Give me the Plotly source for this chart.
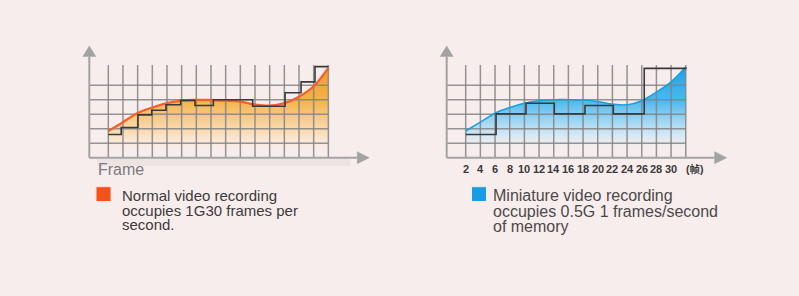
import plotly.graph_objects as go

W, H = 799, 296
BG = "#f8eded"

# ---------------- data ----------------
grid_cols = list(range(16))          # vertical grid lines (frame slots)
grid_rows = [1, 2, 3, 4, 5]          # horizontal grid lines
grid_top = 6.39

frame_labels = ["2", "4", "6", "8", "10", "12", "14", "16", "18", "20",
                "22", "24", "26", "28", "30"]
frame_unit = "(帧)"

curve_x = list(range(16))
normal_curve_y = [1.84, 2.45, 3.08, 3.46, 3.76, 3.93, 3.98, 3.98, 3.93, 3.87,
                  3.67, 3.59, 3.76, 4.21, 4.93, 6.2]
normal_step_x = [0, 0.88, 2.02, 2.96, 3.93, 4.93, 5.91, 7.16, 9.84, 12.05,
                 13.14, 14.09, 15]
normal_step_y = [1.6, 2.08, 2.95, 3.27, 3.65, 3.95, 3.6, 4.0, 3.55, 4.48,
                 5.23, 6.28, 6.28]

mini_curve_y = [1.84, 2.45, 3.07, 3.46, 3.76, 3.93, 4.0, 4.0, 3.98, 3.88,
                3.7, 3.65, 3.93, 4.52, 5.23, 6.25]
mini_step_x = [0, 2.07, 4.11, 6.04, 8.13, 10.06, 12.17, 15.07]
mini_step_y = [1.6, 3.02, 3.75, 3.02, 3.6, 3.02, 6.16, 6.16]

normal_text = ["Normal video recording", "occupies 1G30 frames per", "second."]
mini_text = ["Miniature video recording", "occupies 0.5G 1 frames/second",
             "of memory"]
frame_word = "Frame"

# ---------------- geometry ----------------
UX, UY = 14.67, 14.5      # px per data unit
Y0_PX = 157.7             # pixel row of y = 0
PANELS = [
    dict(x0=108.3, dom=(60, 400)),   # left panel: px of grid col 0, domain px
    dict(x0=465.7, dom=(417, 757)),
]
YDOM = (30, 185)
AX_X = -1.295             # y-axis position
ARROW_X_TIP, ARROW_X_BASE = 17.79, 16.97
ARROW_Y_TIP, ARROW_Y_BASE = 7.70, 6.98


def px_x(px):
    return px / W


def px_y(py):
    return 1 - py / H


fig = go.Figure()

layout_axes = {}
for i, p in enumerate(PANELS):
    sfx = "" if i == 0 else str(i + 1)
    xr = [(p["dom"][0] - p["x0"]) / UX, (p["dom"][1] - p["x0"]) / UX]
    yr = [(Y0_PX - YDOM[1]) / UY, (Y0_PX - YDOM[0]) / UY]
    layout_axes["xaxis" + sfx] = dict(domain=[px_x(p["dom"][0]), px_x(p["dom"][1])],
                                      range=xr, visible=False,
                                      anchor="y" + sfx)
    layout_axes["yaxis" + sfx] = dict(domain=[px_y(YDOM[1]), px_y(YDOM[0])],
                                      range=yr, visible=False,
                                      anchor="x" + sfx)

series = [
    dict(cy=normal_curve_y, sx=normal_step_x, sy=normal_step_y,
         line="#f4602a", lw=2.3,
         scale=[[0, "rgba(248,237,237,0)"], [0.22, "rgba(250,222,185,0.9)"],
                [0.6, "#f3b44c"], [1, "#f19a20"]]),
    dict(cy=mini_curve_y, sx=mini_step_x, sy=mini_step_y,
         line="#1a9fe2", lw=1.6,
         scale=[[0, "rgba(248,237,237,0)"], [0.22, "rgba(205,230,245,0.9)"],
                [0.6, "#4db9ef"], [1, "#16a3ea"]]),
]

grid_col = "rgba(130,130,130,0.85)"
axis_col = "#a3a3a3"

for i, s in enumerate(series):
    xa = "x" if i == 0 else "x2"
    ya = "y" if i == 0 else "y2"
    # filled area
    fig.add_trace(go.Scatter(
        x=curve_x, y=s["cy"], mode="lines", xaxis=xa, yaxis=ya,
        line=dict(width=0, shape="spline", color="rgba(0,0,0,0)"),
        fill="tozeroy",
        fillgradient=dict(type="vertical", start=0.3, stop=6.3,
                          colorscale=s["scale"]),
        hoverinfo="skip", showlegend=False))
    # grid
    gx, gy = [], []
    for c in grid_cols:
        gx += [c, c, None]
        gy += [0, grid_top, None]
    for r in grid_rows:
        gx += [AX_X, grid_cols[-1], None]
        gy += [r, r, None]
    fig.add_trace(go.Scatter(x=gx, y=gy, mode="lines", xaxis=xa, yaxis=ya,
                             line=dict(color=grid_col, width=1.5),
                             hoverinfo="skip", showlegend=False))
    # curve edge
    fig.add_trace(go.Scatter(
        x=curve_x, y=s["cy"], mode="lines", xaxis=xa, yaxis=ya,
        line=dict(width=s["lw"], shape="spline", color=s["line"]),
        hoverinfo="skip", showlegend=False))
    # step line
    fig.add_trace(go.Scatter(
        x=s["sx"], y=s["sy"], mode="lines", xaxis=xa, yaxis=ya,
        line=dict(width=1.6, shape="hv", color="#3a3a3a"),
        hoverinfo="skip", showlegend=False))
    # axes lines
    fig.add_trace(go.Scatter(
        x=[AX_X, AX_X, None, AX_X, ARROW_X_BASE],
        y=[0, ARROW_Y_BASE, None, 0, 0], mode="lines",
        xaxis=xa, yaxis=ya, line=dict(color=axis_col, width=2),
        hoverinfo="skip", showlegend=False))
    # arrow heads
    hw_x = 6.5 / UX
    hh_y = 6.0 / UY
    fig.add_trace(go.Scatter(
        x=[AX_X - hw_x, AX_X, AX_X + hw_x, AX_X - hw_x, None,
           ARROW_X_BASE, ARROW_X_TIP, ARROW_X_BASE, ARROW_X_BASE],
        y=[ARROW_Y_BASE, ARROW_Y_TIP, ARROW_Y_BASE, ARROW_Y_BASE, None,
           -hh_y, 0, hh_y, -hh_y],
        mode="lines", fill="toself", fillcolor=axis_col,
        xaxis=xa, yaxis=ya, line=dict(color=axis_col, width=0.5),
        hoverinfo="skip", showlegend=False))

annotations = []
FONT = "Liberation Sans, Arial, Noto Sans CJK SC, sans-serif"

# frame tick labels on right panel
for idx, lab in enumerate(frame_labels):
    annotations.append(dict(x=grid_cols[idx], y=(Y0_PX - 169) / UY,
                            xref="x2", yref="y2", text=lab, showarrow=False,
                            font=dict(family=FONT, size=11, color="#3a3a3a",
                                      weight="bold"),
                            xanchor="center", yanchor="middle"))
annotations.append(dict(x=15.65, y=(Y0_PX - 169) / UY, xref="x2", yref="y2",
                        text=frame_unit, showarrow=False,
                        font=dict(family=FONT, size=10.5, color="#3a3a3a",
                                  weight="bold"),
                        xanchor="center", yanchor="middle"))

# "Frame" label
annotations.append(dict(x=px_x(95.5), y=px_y(169.5), xref="paper", yref="paper",
                        text=frame_word, showarrow=False,
                        font=dict(family=FONT, size=16, color="#7a7a7a"),
                        xanchor="left", yanchor="middle"))

# legend texts (tight line pitch, as in the reference)
for k, line in enumerate(normal_text):
    annotations.append(dict(x=px_x(119.5), y=px_y(195.3 + 14.8 * k),
                            xref="paper", yref="paper", text=line,
                            showarrow=False,
                            font=dict(family=FONT, size=15, color="#3c3c3c"),
                            xanchor="left", yanchor="middle"))
for k, line in enumerate(mini_text):
    annotations.append(dict(x=px_x(490.5), y=px_y(195.7 + 15.4 * k),
                            xref="paper", yref="paper", text=line,
                            showarrow=False,
                            font=dict(family=FONT, size=16, color="#4a4a4a"),
                            xanchor="left", yanchor="middle"))

shapes = [
    dict(type="rect", xref="paper", yref="paper",
         x0=px_x(96), x1=px_x(111), y0=px_y(201.5), y1=px_y(186.7),
         fillcolor="#f4521a", line=dict(color="#fbe3dc", width=1)),
    dict(type="rect", xref="paper", yref="paper",
         x0=px_x(471.5), x1=px_x(486.5), y0=px_y(201.5), y1=px_y(186.7),
         fillcolor="#1a9be6", line=dict(color="#e6f2fa", width=1)),
    dict(type="rect", xref="paper", yref="paper", layer="below",
         x0=px_x(97), x1=px_x(350), y0=px_y(166), y1=px_y(159),
         fillcolor="rgba(170,160,160,0.12)", line=dict(width=0)),
]

fig.update_layout(
    width=W, height=H, margin=dict(l=0, r=0, t=0, b=0),
    paper_bgcolor=BG, plot_bgcolor=BG,
    showlegend=False, annotations=annotations, shapes=shapes,
    **layout_axes)

fig.write_html("out.html")
